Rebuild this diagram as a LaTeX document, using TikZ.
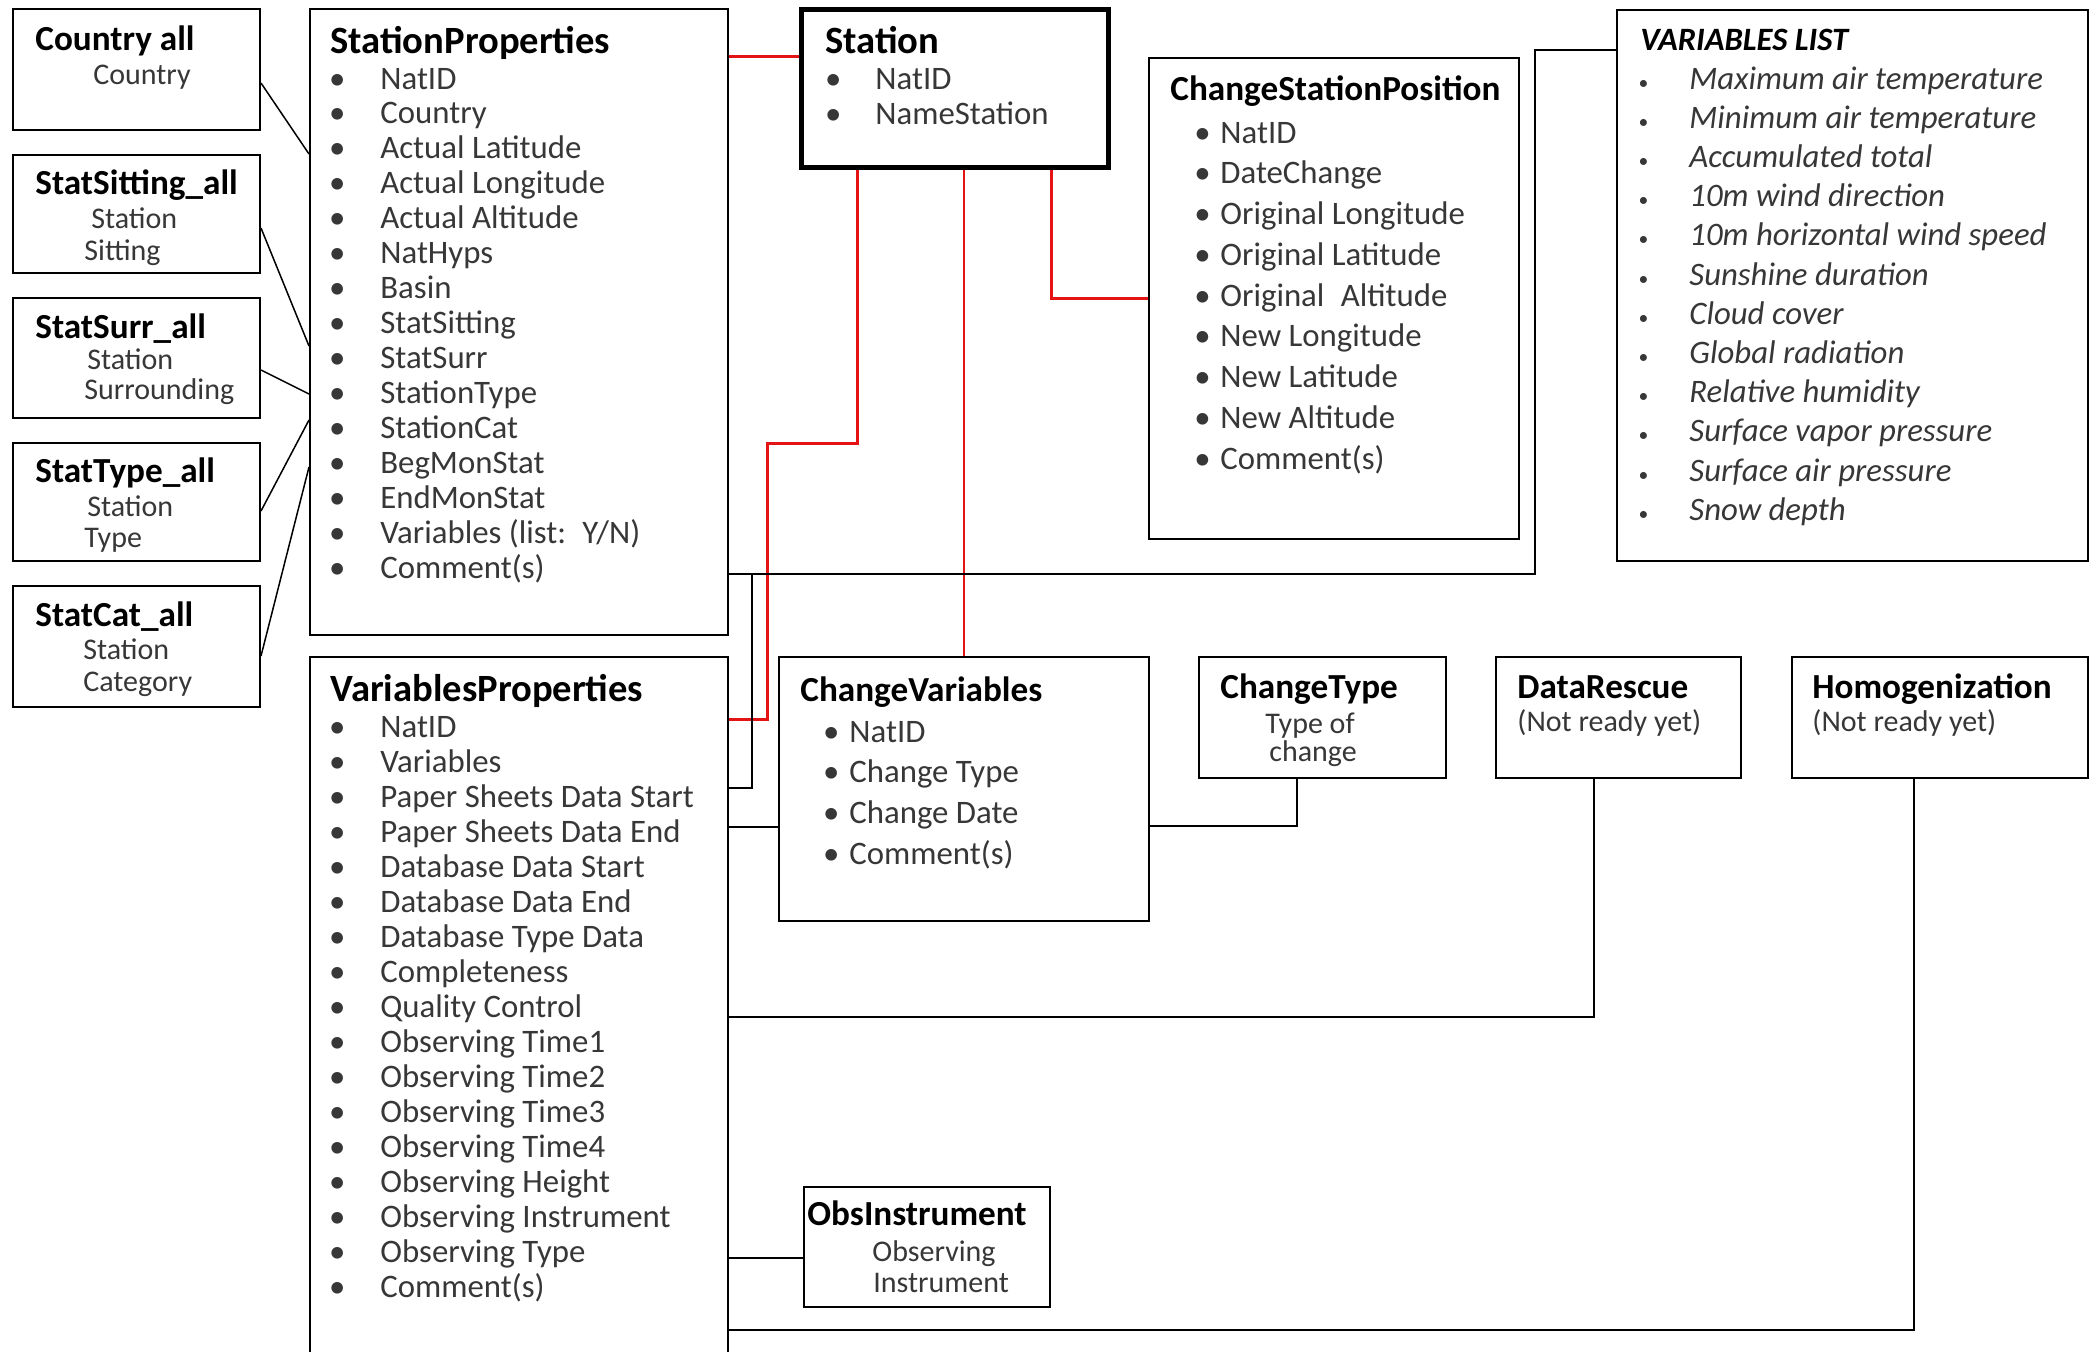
\documentclass[tikz,border=0pt]{standalone}
\usepackage{fontspec}
\setmainfont{Carlito}
\usetikzlibrary{fit}
\definecolor{lnred}{RGB}{228,20,20}
\definecolor{txtgray}{RGB}{55,55,55}
\begin{document}
\begin{tikzpicture}[x=0.5pt,y=-0.5pt,
  box/.style={draw, line width=1pt, inner sep=0pt, rectangle},
  ttl/.style={anchor=base west, inner sep=0pt, font=\fontsize{17.6}{20}\selectfont\bfseries},
  bigttl/.style={anchor=base west, inner sep=0pt, font=\fontsize{19.3}{22}\selectfont\bfseries},
  vlttl/.style={anchor=base west, inner sep=0pt, font=\fontsize{16.3}{19}\selectfont\bfseries\itshape},
  itm/.style={anchor=base west, inner sep=0pt, text=txtgray, font=\fontsize{16.4}{19}\selectfont},
  vlitm/.style={anchor=base west, inner sep=0pt, text=txtgray, font=\fontsize{16.4}{19}\selectfont\itshape},
  subt/.style={anchor=base west, inner sep=0pt, text=txtgray, font=\fontsize{15}{18}\selectfont},
  conn/.style={line width=0.75pt},
  redthick/.style={draw=lnred, line width=1.5pt},
  redthin/.style={draw=lnred, line width=0.9pt}]
\useasboundingbox (0,0) rectangle (2096,1351);
\clip (0,0) rectangle (2096,1351);
\fill[white] (0,0) rectangle (2096,1351);

% ---------- boxes ----------
\node[box, fit={(13,9) (260,130)}] (ca) {};
\node[box, fit={(13,155) (260,273)}] (ss) {};
\node[box, fit={(13,298) (260,418)}] (su) {};
\node[box, fit={(13,443) (260,561)}] (sty) {};
\node[box, fit={(13,586) (260,707)}] (sc) {};
\node[box, fit={(310,9) (728,635)}] (sp) {};
\node[box, fit={(310,657) (728,1400)}] (vp) {};
\node[box, line width=2.5pt, fit={(801,9) (1108,167)}] (st) {};
\node[box, fit={(1149,58) (1519,539)}] (csp) {};
\node[box, fit={(1617,10) (2088,561)}] (vl) {};
\node[box, fit={(779,657) (1149,921)}] (cv) {};
\node[box, fit={(1199,657) (1446,778)}] (ct) {};
\node[box, fit={(1496,657) (1741,778)}] (dr) {};
\node[box, fit={(1792,657) (2088,778)}] (hg) {};
\node[box, fit={(804,1187) (1050,1307)}] (oi) {};

% ---------- small lookup boxes ----------
\node[ttl] (ca-t) at (35,50) {Country all};
\node[subt] (ca-s1) at (93,84) {Country};
\node[ttl] (ss-t) at (35,194) {StatSitting\_all};
\node[subt] (ss-s1) at (91,228) {Station};
\node[subt] (ss-s2) at (84,260) {Sitting};
\node[ttl] (su-t) at (35,338) {StatSurr\_all};
\node[subt] (su-s1) at (87,369) {Station};
\node[subt] (su-s2) at (84,399) {Surrounding};
\node[ttl] (sty-t) at (35,482) {StatType\_all};
\node[subt] (sty-s1) at (87,516) {Station};
\node[subt] (sty-s2) at (84,547) {Type};
\node[ttl] (sc-t) at (35,626) {StatCat\_all};
\node[subt] (sc-s1) at (83,659) {Station};
\node[subt] (sc-s2) at (83,691) {Category};

% ---------- StationProperties ----------
\node[bigttl] (sp-t) at (330,53) {StationProperties};
\foreach \t [count=\i] in {NatID,Country,Actual Latitude,Actual Longitude,Actual Altitude,NatHyps,Basin,StatSitting,StatSurr,StationType,StationCat,BegMonStat,EndMonStat,Variables (list:\enspace Y/N),Comment(s)}
  \node[itm] (sp-\i) at (294,{89+34.93*(\i-1)}) {\makebox[43pt]{\textbullet}\t};

% ---------- Station ----------
\node[bigttl] (st-t) at (825,53) {Station};
\node[itm] (st-1) at (791,89) {\makebox[42pt]{\textbullet}NatID};
\node[itm] (st-2) at (791,124) {\makebox[42pt]{\textbullet}NameStation};

% ---------- ChangeStationPosition ----------
\node[ttl] (csp-t) at (1170,100) {ChangeStationPosition};
\foreach \t [count=\i] in {NatID,DateChange,Original Longitude,Original Latitude,Original\enspace Altitude,New Longitude,New Latitude,New Altitude,Comment(s)}
  \node[itm] (csp-\i) at (1184,{143+40.75*(\i-1)}) {\makebox[18pt]{\textbullet}\t};

% ---------- VARIABLES LIST ----------
\node[vlttl] (vl-t) at (1640,50) {VARIABLES LIST};
\foreach \t [count=\i] in {Maximum air temperature,Minimum air temperature,Accumulated total,10m wind direction,10m horizontal wind speed,Sunshine duration,Cloud cover,Global radiation,Relative humidity,Surface vapor pressure,Surface air pressure,Snow depth}
  \node[vlitm] (vl-\i) at (1597,{89+39.2*(\i-1)}) {\makebox[46pt]{\upshape\scalebox{0.6}{\textbullet}}\t};

% ---------- VariablesProperties ----------
\node[bigttl] (vp-t) at (330,701) {VariablesProperties};
\foreach \t [count=\i] in {NatID,Variables,Paper Sheets Data Start,Paper Sheets Data End,Database Data Start,Database Data End,Database Type Data,Completeness,Quality Control,Observing Time1,Observing Time2,Observing Time3,Observing Time4,Observing Height,Observing Instrument,Observing Type,Comment(s)}
  \node[itm] (vp-\i) at (294,{737.5+35*(\i-1)}) {\makebox[43pt]{\textbullet}\t};

% ---------- ChangeVariables ----------
\node[ttl] (cv-t) at (800,701) {ChangeVariables};
\foreach \t [count=\i] in {NatID,Change Type,Change Date,Comment(s)}
  \node[itm] (cv-\i) at (813,{742+40.8*(\i-1)}) {\makebox[18pt]{\textbullet}\t};

% ---------- small right boxes ----------
\node[ttl] (ct-t) at (1220,698) {ChangeType};
\node[subt] (ct-s1) at (1265,733) {Type of};
\node[subt] (ct-s2) at (1269,761) {change};
\node[ttl] (dr-t) at (1517,698) {DataRescue};
\node[subt] (dr-s1) at (1517,731) {(Not ready yet)};
\node[ttl] (hg-t) at (1812,698) {Homogenization};
\node[subt] (hg-s1) at (1812,731) {(Not ready yet)};
\node[ttl] (oi-t) at (807,1225) {ObsInstrument};
\node[subt] (oi-s1) at (872,1261) {Observing};
\node[subt] (oi-s2) at (873,1292) {Instrument};

% ---------- connectors ----------
% lookup tables to StationProperties
\draw[conn] (ca.east |- 0,83) -- (sp.west |- 0,154);
\draw[conn] (ss.east |- 0,228) -- (sp.west |- 0,346);
\draw[conn] (su.east |- 0,370) -- (sp.west |- 0,394);
\draw[conn] (sty.east |- 0,511) -- (sp.west |- 0,420);
\draw[conn] (sc.east |- 0,656) -- (sp.west |- 0,467);

% red links from Station
\draw[redthick] (sp.east |- 0,56) -- (st.west |- 0,56);
\draw[redthick] (st.south -| 857,0) -- (857,443) -- (767,443) -- (767,719) -- (vp.east |- 0,719);
\draw[redthin] (st.south -| 964,0) -- (cv.north -| 964,0);
\draw[redthick] (st.south -| 1051,0) |- (csp.west |- 0,298);

% black links
\draw[conn] (sp.east |- 0,574) -| (1535,50) -- (vl.west |- 0,50);
\coordinate (j1) at (752,574);
\draw[conn] (j1) |- (vp.east |- 0,788);
\draw[conn] (vp.east |- 0,827) -- (cv.west |- 0,827);
\draw[conn] (cv.east |- 0,826) -| (ct.south -| 1297,0);
\draw[conn] (vp.east |- 0,1017) -| (dr.south -| 1594,0);
\draw[conn] (vp.east |- 0,1258) -- (oi.west |- 0,1258);
\draw[conn] (vp.east |- 0,1330) -| (hg.south -| 1914,0);
\end{tikzpicture}
\end{document}
